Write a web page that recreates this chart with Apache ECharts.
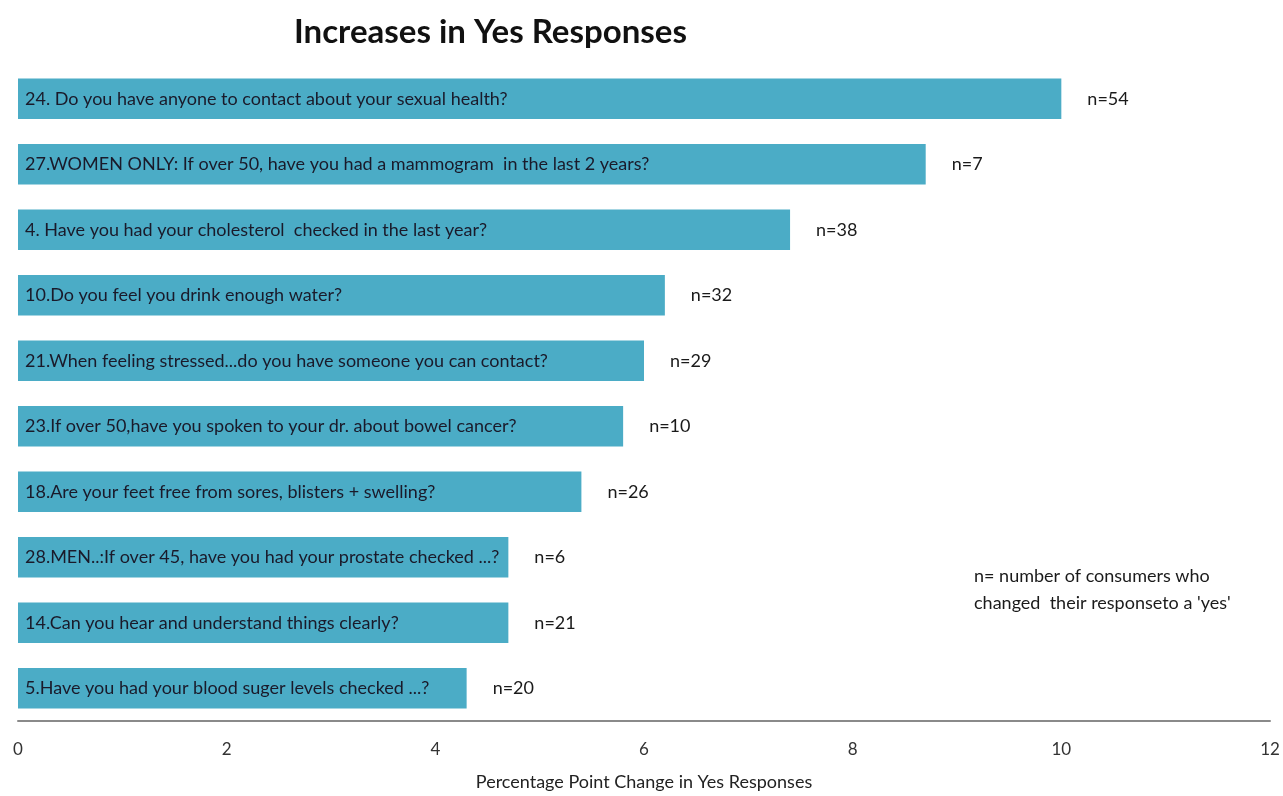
<!DOCTYPE html>
<html>
<head>
<meta charset="utf-8">
<script src="https://cdn.jsdelivr.net/npm/echarts@6/dist/echarts.min.js"></script>
<style>html,body{margin:0;padding:0;background:#fff}#c{width:1283px;height:796px}</style>
</head>
<body>
<div id="c"></div>
<script>
var questions = [
  "24. Do you have anyone to contact about your sexual health?",
  "27.WOMEN ONLY: If over 50, have you had a mammogram  in the last 2 years?",
  "4. Have you had your cholesterol  checked in the last year?",
  "10.Do you feel you drink enough water?",
  "21.When feeling stressed...do you have someone you can contact?",
  "23.If over 50,have you spoken to your dr. about bowel cancer?",
  "18.Are your feet free from sores, blisters + swelling?",
  "28.MEN..:If over 45, have you had your prostate checked ...?",
  "14.Can you hear and understand things clearly?",
  "5.Have you had your blood suger levels checked ...?"
];
var changes = [10.0, 8.7, 7.4, 6.2, 6.0, 5.8, 5.4, 4.7, 4.7, 4.3];
var nCounts = [54, 7, 38, 32, 29, 10, 26, 6, 21, 20];
var xTicks = [0, 2, 4, 6, 8, 10, 12];

var FONT = 'Lato';
var chart = echarts.init(document.getElementById('c'));
chart.setOption({
  animation: false,
  backgroundColor: '#ffffff',
  title: {
    text: 'Increases in Yes Responses',
    left: 289, top: 11,
    textStyle: {fontFamily: FONT, fontWeight: 'bold', fontSize: 33, color: '#111'}
  },
  grid: {left: 18, right: 13, top: 66, bottom: 69, containLabel: false},
  xAxis: {
    type: 'value', min: xTicks[0], max: xTicks[xTicks.length - 1], interval: 2,
    name: 'Percentage Point Change in Yes Responses',
    nameLocation: 'middle', nameGap: 52,
    nameTextStyle: {fontFamily: FONT, fontSize: 18, color: '#222'},
    axisLine: {show: true, lineStyle: {color: '#8a8a8a', width: 2}},
    axisTick: {show: false},
    splitLine: {show: false},
    axisLabel: {fontFamily: FONT, fontSize: 17, color: '#333', margin: 20}
  },
  yAxis: {
    type: 'category', data: questions, inverse: true,
    axisLine: {show: false}, axisTick: {show: false}, axisLabel: {show: false}
  },
  series: [
    {
      type: 'bar', data: changes, barCategoryGap: '38%',
      itemStyle: {color: '#4BACC6'},
      label: {
        show: true, position: 'insideLeft', distance: 7,
        formatter: function (p) { return questions[p.dataIndex]; },
        fontFamily: FONT, fontSize: 18, color: '#1a1a2a'
      }
    },
    {
      type: 'bar', data: changes, barGap: '-100%',
      itemStyle: {color: 'rgba(0,0,0,0)'},
      label: {
        show: true, position: 'right', distance: 26,
        formatter: function (p) { return 'n=' + nCounts[p.dataIndex]; },
        fontFamily: FONT, fontSize: 18, color: '#1a1a1a'
      }
    }
  ],
  graphic: [{
    type: 'text', left: 974, top: 563,
    style: {
      text: "n= number of consumers who\nchanged  their responseto a 'yes'",
      fontFamily: FONT, fontSize: 18, lineHeight: 27, fill: '#1a1a1a'
    }
  }]
});
</script>
</body>
</html>
